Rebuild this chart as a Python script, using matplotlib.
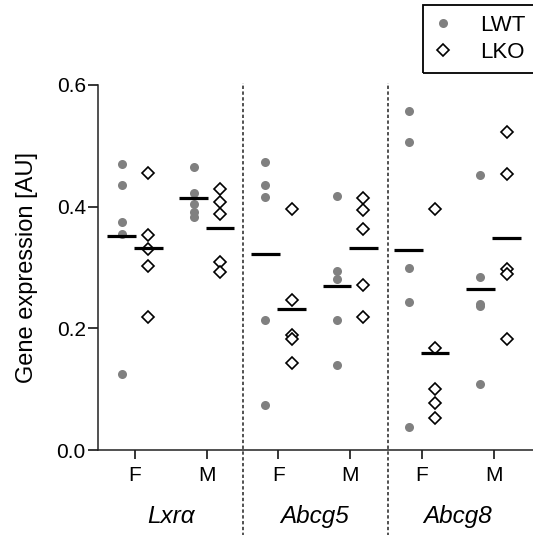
import numpy as np
import matplotlib
matplotlib.use("Agg")
import matplotlib.pyplot as plt
from matplotlib.lines import Line2D
from matplotlib.patches import Rectangle

plt.rcParams['font.family'] = ['Liberation Sans', 'DejaVu Sans']

genes = ['Lxr\u03b1', 'Abcg5', 'Abcg8']
sexes = ['F', 'M']

# gene expression per animal, grouped as gene -> sex
lwt = {
    ('Lxr\u03b1', 'F'): [0.470, 0.436, 0.374, 0.355, 0.125],
    ('Lxr\u03b1', 'M'): [0.466, 0.422, 0.405, 0.392, 0.383],
    ('Abcg5', 'F'): [0.474, 0.436, 0.416, 0.214, 0.074],
    ('Abcg5', 'M'): [0.418, 0.294, 0.281, 0.214, 0.140],
    ('Abcg8', 'F'): [0.558, 0.506, 0.300, 0.243, 0.037],
    ('Abcg8', 'M'): [0.452, 0.285, 0.240, 0.237, 0.108],
}
lko = {
    ('Lxr\u03b1', 'F'): [0.455, 0.353, 0.330, 0.303, 0.219],
    ('Lxr\u03b1', 'M'): [0.429, 0.407, 0.388, 0.309, 0.293],
    ('Abcg5', 'F'): [0.396, 0.247, 0.189, 0.182, 0.143],
    ('Abcg5', 'M'): [0.414, 0.395, 0.363, 0.271, 0.219],
    ('Abcg8', 'F'): [0.396, 0.168, 0.100, 0.078, 0.053],
    ('Abcg8', 'M'): [0.522, 0.454, 0.297, 0.290, 0.183],
}

W, H = 533, 535
fig = plt.figure(figsize=(W / 100, H / 100), dpi=100)
ax = fig.add_axes([98.3 / W, 1 - 450 / H, 1 - 98.3 / W, 365 / H])

gray = '#808080'
off = 0.185
half = 0.2

positions = []
for gi, g in enumerate(genes):
    for si, s in enumerate(sexes):
        x0 = gi * 2 + si
        positions.append(x0)
        a = lwt[(g, s)]
        b = lko[(g, s)]
        ax.plot([x0 - off] * len(a), a, 'o', color=gray, ms=6.5, mew=0, zorder=2, clip_on=False)
        ax.plot([x0 + off] * len(b), b, 'D', mfc='white', mec='black', ms=6.0, mew=1.2,
                zorder=2, clip_on=False)
        ax.hlines(np.mean(a), x0 - off - half, x0 - off + half, color='black', lw=2.3, zorder=3)
        ax.hlines(np.mean(b), x0 + off - half, x0 + off + half, color='black', lw=2.3, zorder=3)

# dashed separators between genes, running down past the axis
for xd in [1.51, 3.53]:
    ax.plot([xd, xd], [-0.143, 0.604], color='#222222', lw=1.1, ls=(0, (2.2, 1.6)),
            clip_on=False, zorder=1)

ax.set_xlim(-0.513, 5.55)
ax.set_ylim(0, 0.6)
ax.set_xticks(positions)
ax.set_xticklabels(sexes * len(genes), fontsize=15)
ax.set_yticks([0.0, 0.2, 0.4, 0.6])
ax.set_yticklabels(['0.0', '0.2', '0.4', '0.6'], fontsize=15)
ax.tick_params(axis='x', length=6.5, width=1.1, pad=5)
ax.tick_params(axis='y', length=7, width=1.1, pad=2)
for side in ['top', 'right']:
    ax.spines[side].set_visible(False)
for side in ['left', 'bottom']:
    ax.spines[side].set_linewidth(1.1)
    ax.spines[side].set_color('#222222')

ax.set_ylabel('Gene expression [AU]', fontsize=17, labelpad=13)

for gi, g in enumerate(genes):
    ax.text(gi * 2 + 0.5, -0.11, g, style='italic', fontsize=17.5, ha='center', va='center')

handles = [
    Line2D([], [], ls='none', marker='o', color=gray, ms=6.5, mew=0),
    Line2D([], [], ls='none', marker='D', mfc='white', mec='black', ms=6.0, mew=1.2),
]
leg = fig.legend(handles, ['LWT', 'LKO'], loc='upper left',
                 bbox_to_anchor=(423.3 / W, 1 - 5 / H), borderaxespad=0,
                 fontsize=16, frameon=False, handlelength=0.9,
                 handletextpad=1.2, borderpad=0.45, labelspacing=0.27)
# legend box runs off the right edge of the figure
fig.patches.append(Rectangle((423.3 / W, 1 - 73 / H), 0.3, 68 / H, transform=fig.transFigure,
                             fill=False, edgecolor='black', lw=1.3))

fig.savefig('out.png', dpi=100)
